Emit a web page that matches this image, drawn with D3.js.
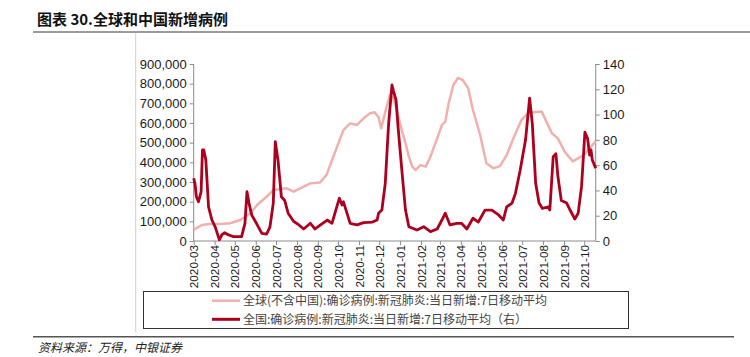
<!DOCTYPE html>
<html><head><meta charset="utf-8">
<script src="https://cdn.jsdelivr.net/npm/d3@7"></script>
<style>
html,body{margin:0;padding:0;background:#fff;}
svg{display:block;}
</style></head>
<body>
<svg id="c" width="750" height="357"></svg>
<script>
// ---- data ----
const titleText = "图表 30.全球和中国新增病例";
const sourceText = "资料来源：万得，中银证券";
const legendLabels = ["全球(不含中国):确诊病例:新冠肺炎:当日新增:7日移动平均", "全国:确诊病例:新冠肺炎:当日新增:7日移动平均（右）"];
const leftTicks = [0,100000,200000,300000,400000,500000,600000,700000,800000,900000];
const rightTicks = [0,20,40,60,80,100,120,140];

const globalDates = ["2020-03-01","2020-03-13","2020-03-25","2020-04-09","2020-04-24","2020-05-09","2020-05-24","2020-06-03","2020-06-17","2020-06-27","2020-07-17","2020-07-27","2020-08-11","2020-08-21","2020-09-04","2020-09-14","2020-09-24","2020-10-09","2020-10-19","2020-10-29","2020-11-08","2020-11-17","2020-11-24","2020-11-30","2020-12-04","2020-12-12","2020-12-17","2020-12-21","2020-12-25","2020-12-30","2021-01-04","2021-01-09","2021-01-14","2021-01-19","2021-01-24","2021-01-31","2021-02-08","2021-02-15","2021-02-25","2021-03-04","2021-03-09","2021-03-14","2021-03-21","2021-03-28","2021-04-04","2021-04-12","2021-04-19","2021-04-29","2021-05-09","2021-05-19","2021-05-29","2021-06-08","2021-06-18","2021-06-30","2021-07-10","2021-07-30","2021-08-06","2021-08-14","2021-08-23","2021-09-02","2021-09-14","2021-09-30","2021-10-09","2021-10-18"];
const globalValues = [58000,81000,86000,86000,90000,107000,141000,183000,225000,259000,268000,251000,276000,293000,297000,336000,429000,564000,598000,590000,624000,649000,655000,630000,573000,683000,742000,732000,692000,624000,556000,497000,429000,378000,361000,386000,378000,429000,522000,590000,607000,700000,793000,830000,818000,776000,666000,548000,395000,370000,381000,437000,522000,615000,652000,658000,607000,548000,522000,454000,405000,437000,470000,508000];

const chinaDates = ["2020-03-01","2020-03-03","2020-03-05","2020-03-08","2020-03-12","2020-03-14","2020-03-16","2020-03-19","2020-03-23","2020-03-28","2020-04-02","2020-04-08","2020-04-12","2020-04-16","2020-04-21","2020-04-29","2020-05-11","2020-05-16","2020-05-19","2020-05-22","2020-05-26","2020-06-02","2020-06-10","2020-06-17","2020-06-22","2020-06-27","2020-06-30","2020-07-04","2020-07-09","2020-07-14","2020-07-19","2020-07-27","2020-08-04","2020-08-11","2020-08-21","2020-08-28","2020-09-05","2020-09-15","2020-09-22","2020-09-30","2020-10-03","2020-10-07","2020-10-09","2020-10-19","2020-10-29","2020-11-08","2020-11-21","2020-11-28","2020-11-30","2020-12-05","2020-12-10","2020-12-15","2020-12-20","2020-12-22","2020-12-26","2020-12-29","2021-01-04","2021-01-09","2021-01-14","2021-01-26","2021-02-05","2021-02-15","2021-02-25","2021-03-04","2021-03-09","2021-03-16","2021-03-26","2021-04-02","2021-04-10","2021-04-19","2021-04-27","2021-05-07","2021-05-17","2021-05-27","2021-06-03","2021-06-08","2021-06-16","2021-06-21","2021-06-28","2021-07-06","2021-07-12","2021-07-16","2021-07-21","2021-07-26","2021-07-31","2021-08-09","2021-08-11","2021-08-16","2021-08-20","2021-08-23","2021-08-28","2021-09-05","2021-09-10","2021-09-17","2021-09-22","2021-09-27","2021-10-02","2021-10-06","2021-10-09","2021-10-11","2021-10-13","2021-10-18"];
const chinaValues = [49.6,45,35,31,39,72,72,64,27,16.6,11,1,5,6.6,5,3.4,3.4,14,39,30,20.6,14,6,5.5,11,30,78.6,64,35,32,22,15.6,12.7,9.5,14,9.5,12.7,16.6,14,28.5,33.8,28.5,31,14,12.7,14.5,15,16.6,22,24.5,45.6,93,123.4,119,111.5,90,53.5,24.5,11.3,8.7,11.3,7.4,9.5,16.6,22,12.7,14,14,9.5,18,15,24.5,24.5,20.6,16.6,27,30,37.7,56,80,113,93,45.6,30,25.8,27,24.5,66.7,69,51,32,30,24.5,17.4,22,43,86,81,68,72,64,57.5];

// ---- layout ----
const svg = d3.select("#c");
const X0 = 193.7, X1 = 595.7, Y0 = 241, Y1 = 64;
const parse = d3.timeParse("%Y-%m-%d");
const x = d3.scaleTime().domain([parse("2020-03-01"), parse("2021-10-18")]).range([X0, X1]);
const yL = d3.scaleLinear().domain([0, 900000]).range([Y0, Y1]);
const yR = d3.scaleLinear().domain([0, 140]).range([Y0, Y1]);
const pink = "#f0b0ad", red = "#ad001e", axisCol = "#8c8c8c";
const cjk = "'Noto Sans CJK SC', sans-serif";
const num = "'Liberation Sans', Arial, sans-serif";

// title
svg.append("text").attr("x", 37).attr("y", 24.5).attr("font-family", cjk).attr("font-weight", 700)
  .attr("font-size", 15).attr("fill", "#111").text(titleText);
svg.append("line").attr("x1", 33).attr("x2", 750).attr("y1", 32).attr("y2", 32)
  .attr("stroke", "#7a7a7a").attr("stroke-width", 1.5);
svg.append("line").attr("x1", 135.7).attr("x2", 135.7).attr("y1", 33).attr("y2", 332)
  .attr("stroke", "#cfcfcf").attr("stroke-width", 1);

// axes
const fmt = d3.format(",");
const gL = svg.append("g").attr("transform", `translate(${X0},0)`)
  .call(d3.axisLeft(yL).tickValues(leftTicks).tickFormat(fmt).tickSize(4).tickPadding(3));
const gR = svg.append("g").attr("transform", `translate(${X1},0)`)
  .call(d3.axisRight(yR).tickValues(rightTicks).tickSize(4).tickPadding(3));
const gB = svg.append("g").attr("transform", `translate(0,${Y0})`)
  .call(d3.axisBottom(x).ticks(d3.timeMonth.every(1)).tickFormat(d3.timeFormat("%Y-%m")).tickSize(4).tickPadding(0));
[gL, gR, gB].forEach(g => {
  g.selectAll("path.domain").attr("stroke", axisCol).attr("stroke-width", 1);
  g.selectAll(".tick line").attr("stroke", axisCol);
  g.selectAll("text").attr("font-family", num).attr("fill", "#1a1a1a");
});
gL.selectAll("text").attr("font-size", 13);
gR.selectAll("text").attr("font-size", 13);
gB.selectAll("text").attr("font-size", 11.8)
  .attr("transform", "rotate(-90)").attr("text-anchor", "end")
  .attr("x", -4).attr("y", 0).attr("dy", "0.35em");
gL.select("path.domain").attr("d", `M-0,${Y0}V${Y1}`);
gR.select("path.domain").attr("d", `M0,${Y0}V${Y1}`);
gB.select("path.domain").attr("d", `M${X0},0H${X1}`);

// lines
const gData = globalDates.map((d, i) => ({ d: parse(d), v: globalValues[i] }));
const cData = chinaDates.map((d, i) => ({ d: parse(d), v: chinaValues[i] }));
svg.append("path").datum(gData).attr("fill", "none").attr("stroke", pink).attr("stroke-width", 2.5)
  .attr("stroke-linejoin", "round")
  .attr("d", d3.line().x(p => x(p.d)).y(p => yL(p.v)));
svg.append("path").datum(cData).attr("fill", "none").attr("stroke", red).attr("stroke-width", 2.8)
  .attr("stroke-linejoin", "round")
  .attr("d", d3.line().x(p => x(p.d)).y(p => yR(p.v)));

// legend
svg.append("rect").attr("x", 143.5).attr("y", 291.5).attr("width", 485).attr("height", 37)
  .attr("fill", "none").attr("stroke", "#333").attr("stroke-width", 1);
[[pink, 300.7, 2.5], [red, 319.3, 3]].forEach((s, i) => {
  svg.append("line").attr("x1", 212).attr("x2", 240).attr("y1", s[1]).attr("y2", s[1])
    .attr("stroke", s[0]).attr("stroke-width", s[2]);
  svg.append("text").attr("x", 243).attr("y", s[1] + 4.3).attr("font-family", cjk).attr("font-size", 12)
    .attr("fill", "#444").text(legendLabels[i]);
});

// footer
svg.append("line").attr("x1", 33).attr("x2", 734).attr("y1", 336.7).attr("y2", 336.7)
  .attr("stroke", "#555").attr("stroke-width", 1.5);
svg.append("text").attr("x", 38).attr("y", 351.5).attr("font-family", cjk).attr("font-size", 12)
  .attr("font-style", "italic").attr("fill", "#222").text(sourceText);
</script>
</body></html>
